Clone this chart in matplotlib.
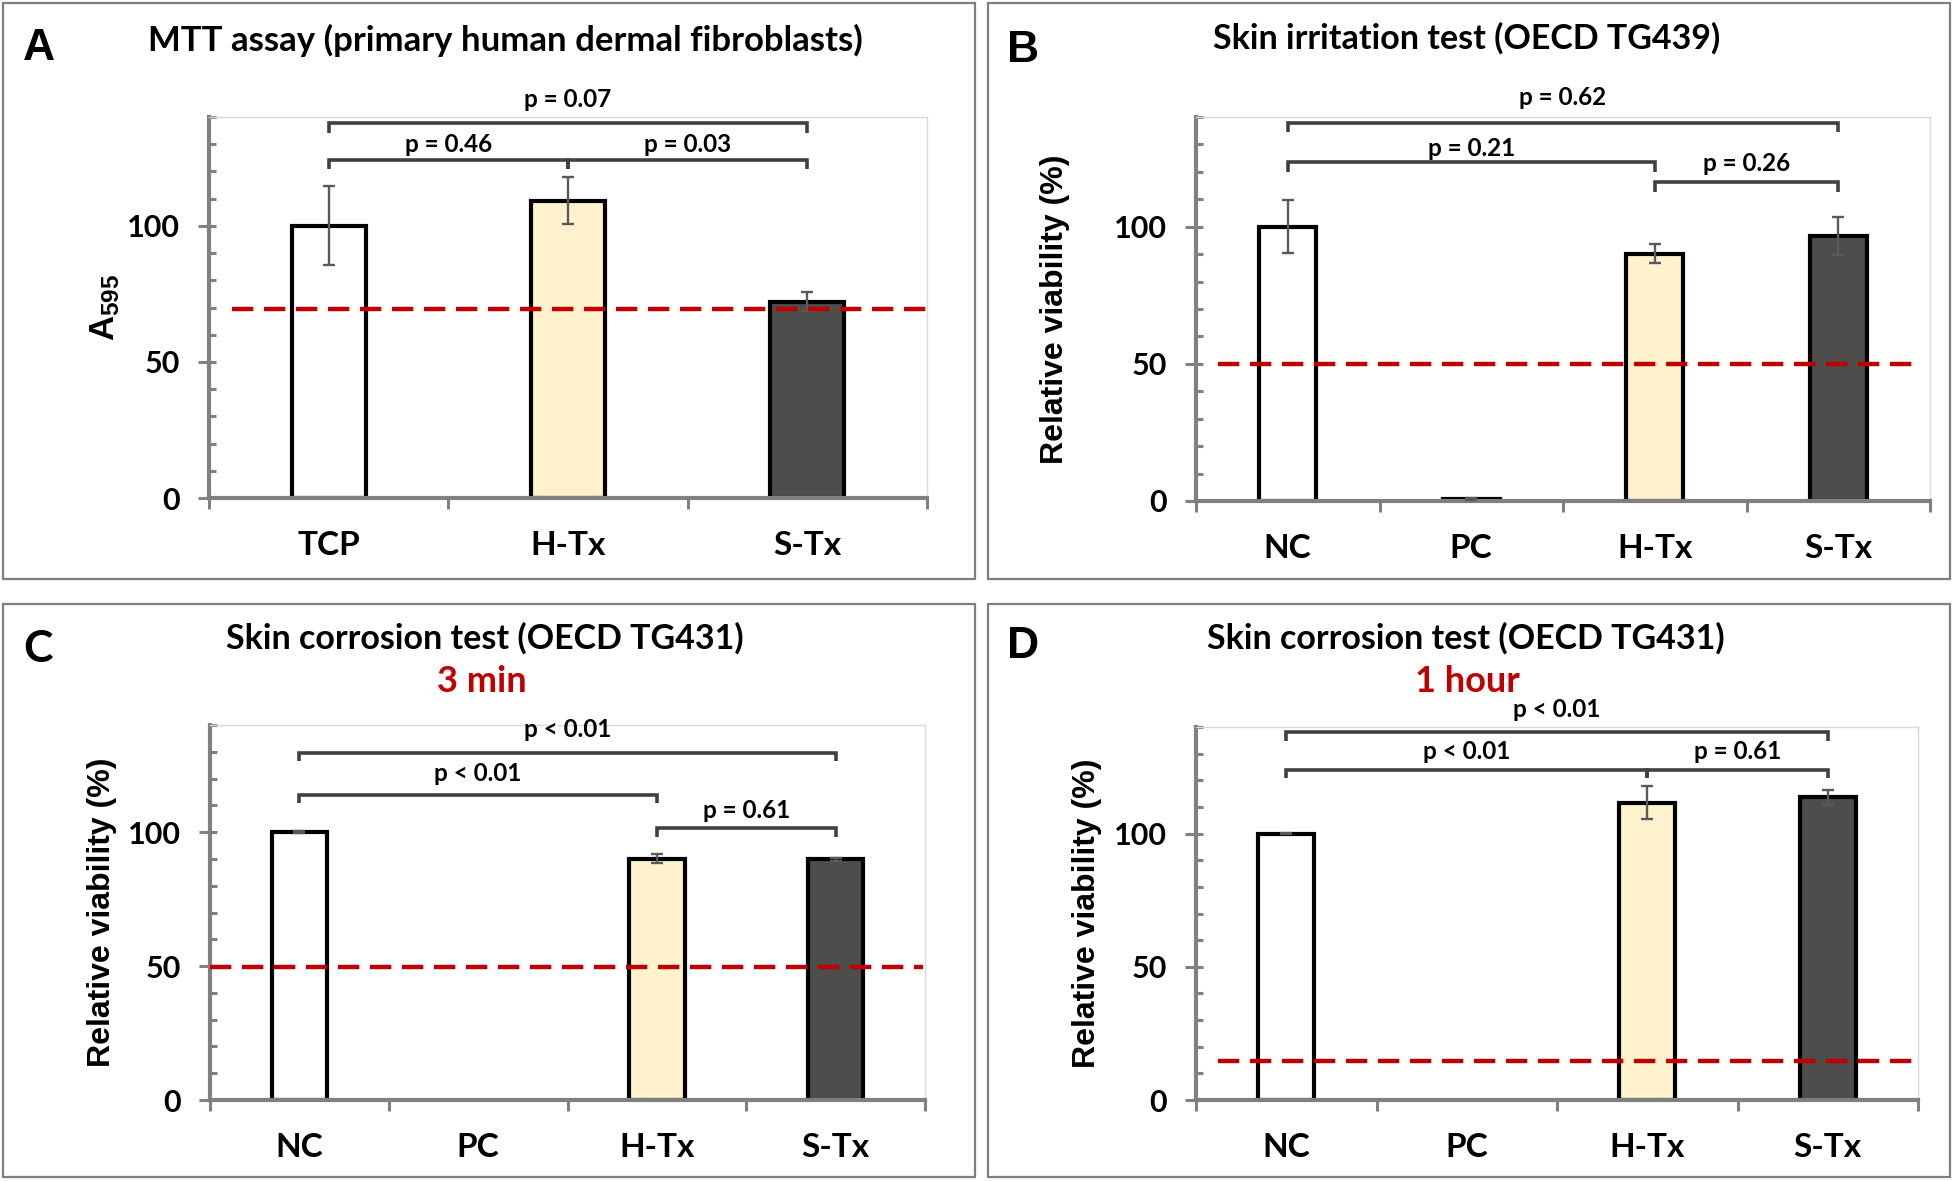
import numpy as np
import matplotlib
matplotlib.use("Agg")
import matplotlib.pyplot as plt
from matplotlib.ticker import MultipleLocator, FixedLocator
from matplotlib.patches import Rectangle
from matplotlib import font_manager as fm

# ---------------- data ----------------
a_cats = ["TCP", "H-Tx", "S-Tx"]
a_vals = [100.0, 109.3, 72.2]
a_errs = [14.5, 8.7, 3.5]
a_threshold = 69.6
a_pvals = ["p = 0.07", "p = 0.46", "p = 0.03"]

b_cats = ["NC", "PC", "H-Tx", "S-Tx"]
b_vals = [100.0, 0.8, 90.2, 96.7]
b_errs = [9.6, 0.4, 3.6, 6.9]
b_threshold = 49.8
b_pvals = ["p = 0.62", "p = 0.21", "p = 0.26"]

c_cats = ["NC", "PC", "H-Tx", "S-Tx"]
c_vals = [100.0, 0.0, 90.1, 89.8]
c_errs = [0.3, 0.0, 1.8, 0.5]
c_threshold = 49.7
c_pvals = ["p < 0.01", "p < 0.01", "p = 0.61"]

d_cats = ["NC", "PC", "H-Tx", "S-Tx"]
d_vals = [100.0, 0.0, 111.6, 113.7]
d_errs = [0.3, 0.0, 6.2, 2.8]
d_threshold = 14.8
d_pvals = ["p < 0.01", "p < 0.01", "p = 0.61"]

# ---------------- style ----------------
names = {f.name for f in fm.fontManager.ttflist}
CAL = "Lato" if "Lato" in names else "Liberation Sans"
ARI = "Liberation Sans" if "Liberation Sans" in names else "DejaVu Sans"
plt.rcParams["font.family"] = [CAL, "DejaVu Sans"]
plt.rcParams["font.weight"] = "bold"
plt.rcParams["mathtext.fontset"] = "custom"
plt.rcParams["mathtext.rm"] = ARI + ":bold"
plt.rcParams["mathtext.it"] = ARI + ":bold"
plt.rcParams["mathtext.bf"] = ARI + ":bold"

WHITE, CREAM, DARK = "#FFFFFF", "#FFF2CC", "#4D4D4D"
GRAY = "#808080"
LIGHT = "#D9D9D9"
RED = "#C00000"
BRK = "#404040"

W, H = 1953, 1181
fig = plt.figure(figsize=(W / 100, H / 100), dpi=100)


def ax_at(l, t, r, b):
    return fig.add_axes([l / W, 1 - b / H, (r - l) / W, (b - t) / H])


def border(l, t, r, b):
    fig.patches.append(Rectangle((l / W, 1 - b / H), (r - l) / W, (b - t) / H,
                                 transform=fig.transFigure, fill=False,
                                 edgecolor="#7F7F7F", linewidth=1.6))


def setup(ax, cats, ylab, ylab_x, ylab_math=False):
    n = len(cats)
    ax.set_xlim(-0.5, n - 0.5)
    ax.set_ylim(0, 140)
    ax.set_yticks([0, 50, 100])
    ax.yaxis.set_minor_locator(MultipleLocator(10))
    ax.yaxis.remove_overlapping_locs = False
    ax.set_xticks(range(n))
    ax.set_xticklabels(cats)
    ax.xaxis.set_minor_locator(FixedLocator(np.arange(-0.5, n, 1.0)))
    for s in ("left", "bottom"):
        ax.spines[s].set_color(GRAY)
        ax.spines[s].set_linewidth(3)
    for s in ("top", "right"):
        ax.spines[s].set_color(LIGHT)
        ax.spines[s].set_linewidth(1)
    ax.tick_params(axis="y", which="major", direction="out", length=8, width=2.2,
                   color=GRAY, pad=13, labelsize=22)
    ax.tick_params(axis="y", which="minor", direction="in", length=5, width=2.2, color=GRAY)
    ax.tick_params(axis="x", which="major", length=0, pad=24, labelsize=24)
    ax.tick_params(axis="x", which="minor", direction="out", length=8, width=2.2, color=GRAY)
    for lab in ax.get_xticklabels() + ax.get_yticklabels():
        lab.set_fontweight("bold")
    if ylab_math:
        ax.text(ylab_x, 0.5, ylab, transform=ax.transAxes, rotation=90,
                ha="center", va="center", fontsize=25)
    else:
        ax.text(ylab_x, 0.5, ylab, transform=ax.transAxes, rotation=90,
                ha="center", va="center", fontsize=23, family=ARI, fontweight="bold")


def draw_bars(ax, vals, errs, colors):
    x = np.arange(len(vals))
    vals = np.asarray(vals)
    errs = np.asarray(errs)
    shown = vals > 0
    ax.bar(x[shown], vals[shown], width=0.31, color=np.asarray(colors)[shown],
           edgecolor="black", linewidth=3.0, zorder=2)
    has_err = errs > 0
    ax.errorbar(x[has_err], vals[has_err], yerr=errs[has_err], fmt="none",
                ecolor="#595959", elinewidth=1.7, capsize=4, capthick=1.7, zorder=3)


def threshold(ax, y, x0, x1):
    ax.plot([x0, x1], [y, y], color=RED, lw=3.2, dashes=(4.8, 2.4), zorder=4,
            dash_capstyle="butt")


def bracket(ax, i, j, yline, yleg, text, ytext):
    ax.plot([i, i, j, j], [yleg, yline, yline, yleg], color=BRK, lw=2.6,
            clip_on=False, zorder=5, solid_joinstyle="miter", solid_capstyle="butt")
    ax.text((i + j) / 2, ytext, text, ha="center", va="center", fontsize=17.5,
            fontweight="bold", clip_on=False, zorder=6)


# ---------------- panel borders ----------------
border(2.5, 2.5, 975, 579)
border(988, 2.5, 1950, 579)
border(2.5, 604, 975, 1177)
border(988, 604, 1950, 1177)

# ---------------- panel A ----------------
axA = ax_at(209, 117, 927, 498)
setup(axA, a_cats, r"$\mathrm{A}_{595}$", -0.145, ylab_math=True)
draw_bars(axA, a_vals, a_errs, [WHITE, CREAM, DARK])
threshold(axA, a_threshold, -0.404, 2.5)
bracket(axA, 0, 2, 137.7, 134.2, a_pvals[0], 146.3)
bracket(axA, 0, 1, 124.3, 121.0, a_pvals[1], 130.0)
bracket(axA, 1, 2, 124.3, 121.0, a_pvals[2], 130.0)

# ---------------- panel B ----------------
axB = ax_at(1196, 117, 1930, 501)
setup(axB, b_cats, "Relative viability (%)", -0.192)
draw_bars(axB, b_vals, b_errs, [WHITE, WHITE, CREAM, DARK])
threshold(axB, b_threshold, -0.38, 3.416)
bracket(axB, 0, 3, 137.9, 134.4, b_pvals[0], 147.0)
bracket(axB, 0, 2, 123.5, 120.0, b_pvals[1], 128.6)
bracket(axB, 2, 3, 116.2, 112.7, b_pvals[2], 123.1)

# ---------------- panel C ----------------
axC = ax_at(210, 725, 925, 1100)
setup(axC, c_cats, "Relative viability (%)", -0.151)
draw_bars(axC, c_vals, c_errs, [WHITE, WHITE, CREAM, DARK])
threshold(axC, c_threshold, -0.5, 3.49)
bracket(axC, 0, 3, 129.7, 126.6, c_pvals[0], 138.5)
bracket(axC, 0, 2, 114.0, 110.9, c_pvals[1], 122.0)
bracket(axC, 2, 3, 101.4, 98.3, c_pvals[2], 108.0)

# ---------------- panel D ----------------
axD = ax_at(1196, 727, 1918, 1100)
setup(axD, d_cats, "Relative viability (%)", -0.151)
draw_bars(axD, d_vals, d_errs, [WHITE, WHITE, CREAM, DARK])
threshold(axD, d_threshold, -0.38, 3.5)
bracket(axD, 0, 3, 138.0, 134.9, d_pvals[0], 146.5)
bracket(axD, 0, 2, 123.9, 121.0, d_pvals[1], 130.7)
bracket(axD, 2, 3, 123.9, 121.0, d_pvals[2], 130.7)

# ---------------- titles & letters ----------------
def ftext(x, y, s, **kw):
    fig.text(x / W, 1 - y / H, s, ha="center", va="center", **kw)

ftext(39, 49, "A", fontsize=32, family=ARI, fontweight="bold")
ftext(1023, 51, "B", fontsize=32, family=ARI, fontweight="bold")
ftext(38, 649, "C", fontsize=32, family=CAL, fontweight="bold")
ftext(1023, 646, "D", fontsize=32, family=ARI, fontweight="bold")

ftext(505, 40, "MTT assay (primary human dermal fibroblasts)", fontsize=25, fontweight="bold")
ftext(1467, 38, "Skin irritation test (OECD TG439)", fontsize=24.5, fontweight="bold")
ftext(485, 638, "Skin corrosion test (OECD TG431)", fontsize=24.5, fontweight="bold")
ftext(482, 681, "3 min", fontsize=26, fontweight="bold", color=RED)
ftext(1466, 638, "Skin corrosion test (OECD TG431)", fontsize=24.5, fontweight="bold")
ftext(1467, 681, "1 hour", fontsize=26, fontweight="bold", color=RED)

fig.savefig("out.png", dpi=100, facecolor="white")
